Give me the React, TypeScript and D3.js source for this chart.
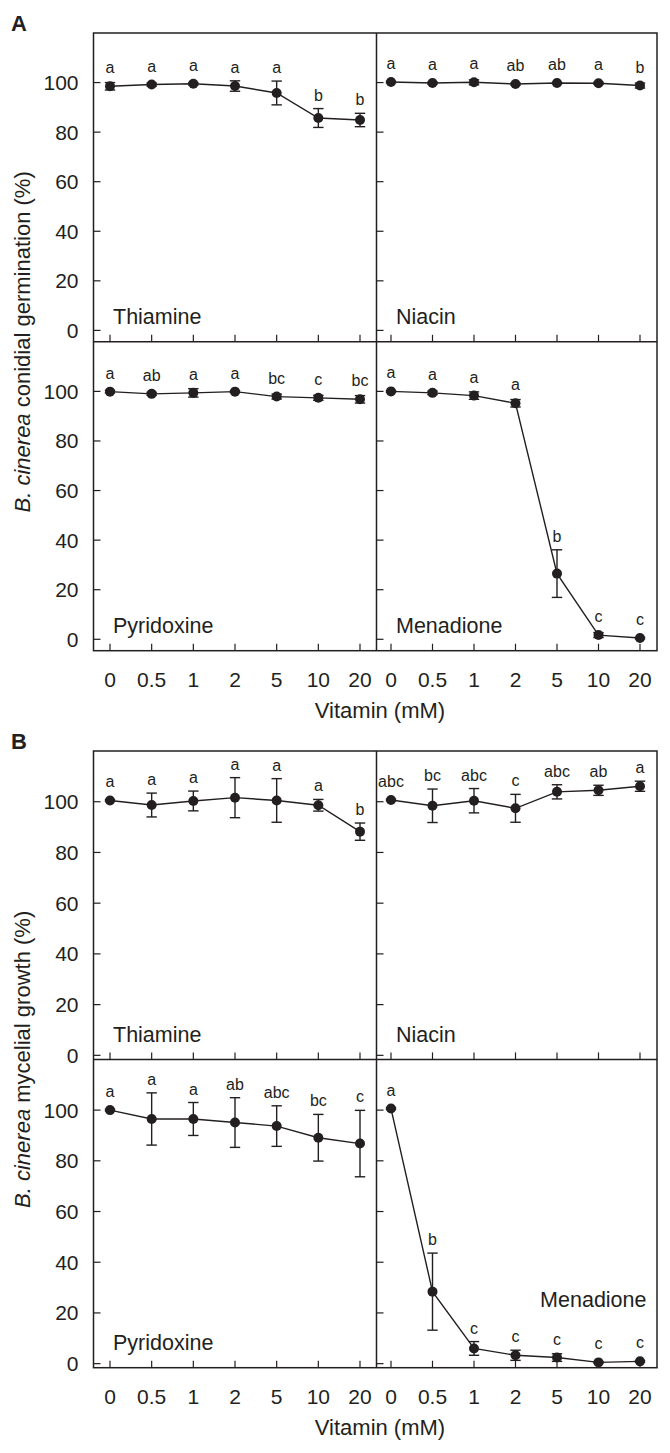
import React from "react";
import * as d3 from "d3";

// ---------- DATA ----------
const doses = ["0", "0.5", "1", "2", "5", "10", "20"];
const yTickValues = [0, 20, 40, 60, 80, 100];

// A: conidial germination (%)
const germThiamineMean = [98.5, 99.2, 99.5, 98.6, 95.8, 85.7, 84.9];
const germThiamineErr = [1.5, 0.6, 0.5, 2.1, 4.8, 3.8, 2.7];
const germThiamineLetters = ["a", "a", "a", "a", "a", "b", "b"];

const germNiacinMean = [100.2, 99.8, 100.1, 99.4, 99.8, 99.7, 98.8];
const germNiacinErr = [0.3, 0.4, 1.0, 0.4, 0.3, 0.4, 1.0];
const germNiacinLetters = ["a", "a", "a", "ab", "ab", "a", "b"];

const germPyridoxineMean = [99.9, 99.0, 99.4, 99.9, 97.9, 97.4, 96.8];
const germPyridoxineErr = [0.5, 0.6, 1.7, 0.4, 1.0, 1.0, 1.5];
const germPyridoxineLetters = ["a", "ab", "a", "a", "bc", "c", "bc"];

const germMenadioneMean = [100.0, 99.4, 98.3, 95.2, 26.5, 1.7, 0.5];
const germMenadioneErr = [0.3, 0.7, 1.5, 1.5, 9.6, 1.0, 0.3];
const germMenadioneLetters = ["a", "a", "a", "a", "b", "c", "c"];

// B: mycelial growth (%)
const growThiamineMean = [100.5, 98.7, 100.3, 101.6, 100.5, 98.6, 88.2];
const growThiamineErr = [0.3, 4.7, 3.9, 7.9, 8.6, 2.3, 3.4];
const growThiamineLetters = ["a", "a", "a", "a", "a", "a", "b"];

const growNiacinMean = [100.7, 98.4, 100.4, 97.4, 103.9, 104.5, 106.1];
const growNiacinErr = [0.3, 6.6, 4.8, 5.5, 2.8, 2.0, 2.0];
const growNiacinLetters = ["abc", "bc", "abc", "c", "abc", "ab", "a"];

const growPyridoxineMean = [100.0, 96.5, 96.5, 95.1, 93.7, 89.1, 86.8];
const growPyridoxineErr = [0.3, 10.3, 6.5, 9.8, 8.0, 9.2, 13.1];
const growPyridoxineLetters = ["a", "a", "a", "ab", "abc", "bc", "c"];

const growMenadioneMean = [100.6, 28.4, 6.0, 3.3, 2.4, 0.5, 0.9];
const growMenadioneErr = [0.3, 15.2, 2.7, 2.0, 1.5, 0.3, 0.3];
const growMenadioneLetters = ["a", "b", "c", "c", "c", "c", "c"];

const vitaminNames = ["Thiamine", "Niacin", "Pyridoxine", "Menadione"];
const figureLetters = ["A", "B"];
const yTitles = ["conidial germination (%)", "mycelial growth (%)"];
const xTitle = "Vitamin (mM)";

// ---------- LAYOUT ----------
const INK = "#231f20";
const FONT = "'Liberation Sans', Arial, Helvetica, sans-serif";
const frameLeft = 93.5;
const frameMid = 376.5;
const frameRight = 657;
const colPointRanges: [number, number][] = [
  [110, 360],
  [391, 640],
];

type Fig = {
  letter: string;
  title: string;
  top: number;
  mid: number;
  bottom: number;
  domain: [number, number];
  panels: {
    name: string;
    mean: number[];
    err: number[];
    letters: string[];
    nameAnchor?: "start" | "end";
    nameY?: number;
  }[];
};

const figs: Fig[] = [
  {
    letter: figureLetters[0],
    title: yTitles[0],
    top: 33,
    mid: 341.8,
    bottom: 650.7,
    domain: [-4.6, 120],
    panels: [
      { name: vitaminNames[0], mean: germThiamineMean, err: germThiamineErr, letters: germThiamineLetters },
      { name: vitaminNames[1], mean: germNiacinMean, err: germNiacinErr, letters: germNiacinLetters },
      { name: vitaminNames[2], mean: germPyridoxineMean, err: germPyridoxineErr, letters: germPyridoxineLetters },
      { name: vitaminNames[3], mean: germMenadioneMean, err: germMenadioneErr, letters: germMenadioneLetters },
    ],
  },
  {
    letter: figureLetters[1],
    title: yTitles[1],
    top: 751,
    mid: 1059.4,
    bottom: 1367.7,
    domain: [-1.6, 120],
    panels: [
      { name: vitaminNames[0], mean: growThiamineMean, err: growThiamineErr, letters: growThiamineLetters },
      { name: vitaminNames[1], mean: growNiacinMean, err: growNiacinErr, letters: growNiacinLetters },
      { name: vitaminNames[2], mean: growPyridoxineMean, err: growPyridoxineErr, letters: growPyridoxineLetters },
      { name: vitaminNames[3], mean: growMenadioneMean, err: growMenadioneErr, letters: growMenadioneLetters, nameAnchor: "end", nameY: 60.8 },
    ],
  },
];

function Panel({
  col,
  row,
  y0,
  y1,
  domain,
  p,
}: {
  col: number;
  row: number;
  y0: number;
  y1: number;
  domain: [number, number];
  p: Fig["panels"][number];
}) {
  const x = d3.scalePoint<string>().domain(doses).range(colPointRanges[col]);
  const y = d3.scaleLinear().domain(domain).range([y1, y0]);
  const frameX = col === 0 ? frameLeft : frameMid;
  const line = d3
    .line<number>()
    .x((_, i) => x(doses[i]) as number)
    .y((d) => y(d));
  const cap = 5.2;
  const r = 5;
  return (
    <g>
      {/* y ticks */}
      {yTickValues.map((v) => (
        <line key={"yt" + v} x1={frameX} x2={frameX + 7} y1={y(v)} y2={y(v)} stroke={INK} strokeWidth={1.2} />
      ))}
      {col === 0 &&
        yTickValues.map((v) => (
          <text key={"yl" + v} x={78.5} y={y(v) + 7.5} textAnchor="end" fontSize={21} fill={INK}>
            {v}
          </text>
        ))}
      {/* x ticks */}
      {doses.map((d) => (
        <line key={"xt" + d} x1={x(d)} x2={x(d)} y1={y1} y2={y1 - 7} stroke={INK} strokeWidth={1.2} />
      ))}
      {row === 1 &&
        doses.map((d) => (
          <text key={"xl" + d} x={x(d)} y={y1 + 36} textAnchor="middle" fontSize={21} fill={INK}>
            {d}
          </text>
        ))}
      {/* line */}
      <path d={line(p.mean) || ""} fill="none" stroke={INK} strokeWidth={1.4} />
      {/* error bars */}
      {p.mean.map((m, i) => {
        const cx = x(doses[i]) as number;
        const yt = y(m + p.err[i]);
        const yb = y(m - p.err[i]);
        return (
          <g key={"e" + i}>
            <line x1={cx} x2={cx} y1={yt} y2={yb} stroke={INK} strokeWidth={1.4} />
            <line x1={cx - cap} x2={cx + cap} y1={yt} y2={yt} stroke={INK} strokeWidth={1.4} />
            <line x1={cx - cap} x2={cx + cap} y1={yb} y2={yb} stroke={INK} strokeWidth={1.4} />
          </g>
        );
      })}
      {/* points */}
      {p.mean.map((m, i) => (
        <circle key={"c" + i} cx={x(doses[i])} cy={y(m)} r={r} fill={INK} />
      ))}
      {/* letters */}
      {p.mean.map((m, i) => {
        const top = Math.min(y(m + p.err[i]), y(m) - r);
        return (
          <text key={"l" + i} x={x(doses[i])} y={top - 8} textAnchor="middle" fontSize={16} fill={INK}>
            {p.letters[i]}
          </text>
        );
      })}
      {/* vitamin name */}
      <text
        x={p.nameAnchor === "end" ? frameRight - 10.5 : frameX + 19.5}
        y={p.nameY !== undefined ? y1 - p.nameY : y1 - 17.5}
        textAnchor={p.nameAnchor || "start"}
        fontSize={21.5}
        fill={INK}
      >
        {p.name}
      </text>
    </g>
  );
}

export default function App() {
  return (
    <svg
      width={670}
      height={1453}
      viewBox="0 0 670 1453"
      style={{ position: "absolute", left: 0, top: 0, background: "#fff" }}
      fontFamily={FONT}
    >
      <rect x={0} y={0} width={670} height={1453} fill="#fff" />
      {figs.map((f, fi) => (
        <g key={fi}>
          <text x={11} y={f.top - 2.5} fontSize={22} fontWeight="bold" fill={INK}>
            {f.letter}
          </text>
          <text
            transform={`translate(30,${(f.top + f.bottom) / 2}) rotate(-90)`}
            textAnchor="middle"
            fontSize={22}
            fill={INK}
          >
            <tspan fontStyle="italic">B. cinerea</tspan> {f.title}
          </text>
          {f.panels.map((p, pi) => {
            const row = Math.floor(pi / 2);
            const col = pi % 2;
            const y0 = row === 0 ? f.top : f.mid;
            const y1 = row === 0 ? f.mid : f.bottom;
            return <Panel key={pi} col={col} row={row} y0={y0} y1={y1} domain={f.domain} p={p} />;
          })}
          {/* frame */}
          <rect
            x={frameLeft}
            y={f.top}
            width={frameRight - frameLeft}
            height={f.bottom - f.top}
            fill="none"
            stroke={INK}
            strokeWidth={1.5}
          />
          <line x1={frameMid} x2={frameMid} y1={f.top} y2={f.bottom} stroke={INK} strokeWidth={1.5} />
          <line x1={frameLeft} x2={frameRight} y1={f.mid} y2={f.mid} stroke={INK} strokeWidth={1.5} />
          <text x={380} y={f.bottom + 67.5} textAnchor="middle" fontSize={22} fill={INK}>
            {xTitle}
          </text>
        </g>
      ))}
    </svg>
  );
}
